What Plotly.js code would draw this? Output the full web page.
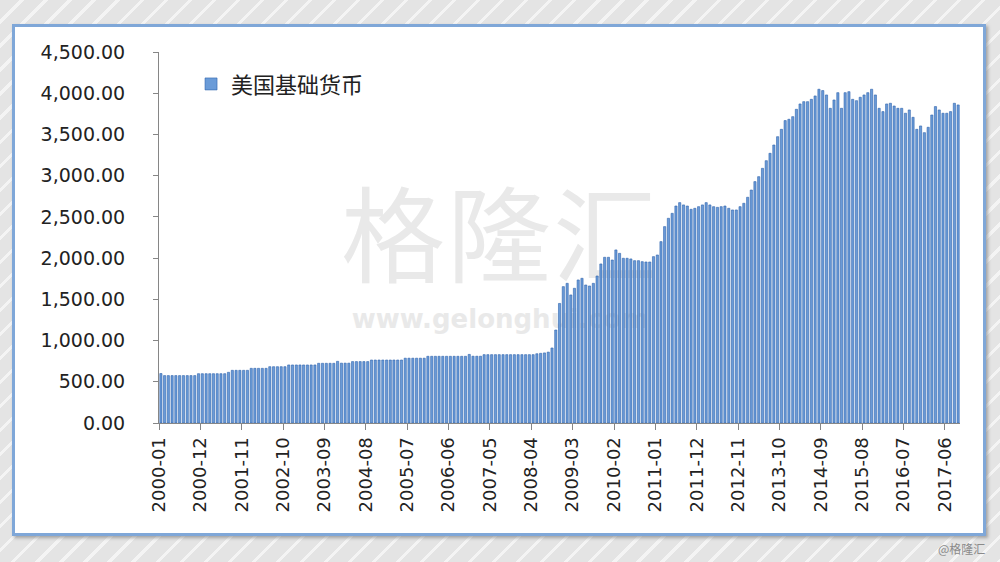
<!DOCTYPE html>
<html>
<head>
<meta charset="utf-8">
<script src="https://cdn.plot.ly/plotly-3.0.1.min.js"></script>
<style>
  html, body { margin: 0; padding: 0; }
  body {
    width: 1000px; height: 562px; overflow: hidden; position: relative;
    background: repeating-linear-gradient(135deg, #e4e4e4 0px, #e4e4e4 14px, #f4f4f4 14px, #f4f4f4 17px);
  }
  #frame {
    position: absolute; left: 12px; top: 24px; width: 968px; height: 506px;
    background: #ffffff; border: 3px solid #7fa7d8;
    box-shadow: 2px 2px 3px rgba(120,120,120,0.6);
  }
  #wm1 {
    position: absolute; left: 335px; top: 154px; width: 330px; text-align: center;
    font-family: "Noto Sans CJK SC", sans-serif; font-size: 104px; color: #e9e9e9; letter-spacing: 2px;
  }
  #wm2 {
    position: absolute; left: 335px; top: 304px; width: 330px; text-align: center;
    font-family: "DejaVu Sans", sans-serif; font-weight: bold; font-size: 26px; color: #e9e9e9;
  }
  #credit {
    position: absolute; left: 938px; top: 540px;
    font-family: "Noto Sans CJK SC", sans-serif; font-size: 12px; color: #8a8a8a;
  }
  #chart { position: absolute; left: 0; top: 0; width: 1000px; height: 562px; }
</style>
</head>
<body>
<div id="frame"></div>
<div id="wm1">格隆汇</div>
<div id="wm2">www.gelonghui.com</div>
<div id="credit">@格隆汇</div>
<div id="chart"></div>
<script>
// Series name
const seriesName = "美国基础货币";
// First month and month labels shown on the axis
const startYear = 2000, startMonth = 1;
const tickLabels = ["2000-01","2000-12","2001-11","2002-10","2003-09","2004-08","2005-07","2006-06",
  "2007-05","2008-04","2009-03","2010-02","2011-01","2011-12","2012-11","2013-10","2014-09",
  "2015-08","2016-07","2017-06"];
// Monthly values (2000-01 .. 2017-09)
const baseValues = [
  600,575,575,575,575,575,575,575,575,575,
  598,598,598,598,598,598,598,598,615,639,
  639,639,639,639,663,663,663,663,663,683,
  683,683,683,683,704,704,704,704,704,704,
  704,704,724,724,724,724,724,748,726,726,
  726,745,745,745,745,745,764,764,764,764,
  764,764,764,764,764,786,786,786,786,786,
  786,809,809,809,809,809,809,809,809,809,
  809,809,832,810,810,810,829,829,829,829,
  829,829,829,829,829,829,829,829,829,829,
  840,845,850,860,910,1128,1450,1654,1694,1553,
  1634,1735,1755,1674,1662,1694,1783,1929,2010,2010,
  1977,2099,2058,1998,1998,1990,1969,1969,1957,1953,
  1953,2018,2038,2200,2382,2483,2543,2632,2673,2645,
  2632,2592,2604,2624,2645,2673,2645,2624,2616,2624,
  2632,2604,2584,2584,2624,2665,2738,2826,2928,2988,
  3089,3182,3271,3372,3473,3562,3668,3684,3716,3805,
  3870,3898,3898,3926,3967,4048,4032,3979,3817,3918,
  4007,3817,4007,4019,3926,3910,3951,3979,4007,4048,
  3979,3817,3777,3870,3878,3845,3817,3817,3757,3797,
  3708,3562,3603,3522,3587,3736,3838,3797,3757,3757,
  3777,3878,3858
];

// Month categories built from the start month and the number of values
const months = [];
for (let k = 0; k < baseValues.length; k++) {
  const m = startMonth - 1 + k;
  const y = startYear + Math.floor(m / 12);
  const mm = (m % 12) + 1;
  months.push(y + "-" + (mm < 10 ? "0" : "") + mm);
}
const lastM = startMonth - 1 + baseValues.length;
const endLabel = (startYear + Math.floor(lastM / 12)) + "-" + ((lastM % 12) + 1 < 10 ? "0" : "") + ((lastM % 12) + 1);

const trace = {
  type: "bar",
  x: months,
  y: baseValues,
  name: seriesName,
  xperiod: "M1",
  xperiodalignment: "middle",
  marker: { color: "#6a9bd8", line: { color: "#2f63ad", width: 0.6 } },
  hoverinfo: "x+y"
};

const axisFont = { family: "DejaVu Sans, Verdana, sans-serif", size: 19, color: "#222222" };

const layout = {
  width: 1000, height: 562,
  margin: { l: 159, r: 40, t: 52, b: 139 },
  paper_bgcolor: "rgba(0,0,0,0)",
  plot_bgcolor: "rgba(0,0,0,0)",
  bargap: 0.4,
  showlegend: true,
  legend: {
    x: 0.04, y: 0.97, xanchor: "left", yanchor: "top",
    bgcolor: "rgba(0,0,0,0)",
    font: { family: "Noto Sans CJK SC, sans-serif", size: 22, color: "#222222" },
    itemwidth: 30
  },
  xaxis: {
    type: "date",
    range: [months[0] + "-01", endLabel + "-01"],
    tickvals: tickLabels.map(s => s + "-01"),
    ticktext: tickLabels,
    tickangle: -90,
    ticks: "outside", ticklen: 6, tickcolor: "#868686", tickwidth: 1,
    showline: true, linecolor: "#868686", linewidth: 1,
    showgrid: false, zeroline: false,
    tickfont: { family: "DejaVu Sans, Verdana, sans-serif", size: 18, color: "#222222" }
  },
  yaxis: {
    range: [0, 4500],
    dtick: 500, tick0: 0,
    tickformat: ",.2f",
    ticks: "outside", ticklen: 5, tickcolor: "#868686", tickwidth: 1,
    ticklabelstandoff: 24,
    showline: true, linecolor: "#868686", linewidth: 1,
    showgrid: false, zeroline: false,
    tickfont: axisFont
  }
};

Plotly.newPlot("chart", [trace], layout, { displayModeBar: false, staticPlot: true });
</script>
</body>
</html>
